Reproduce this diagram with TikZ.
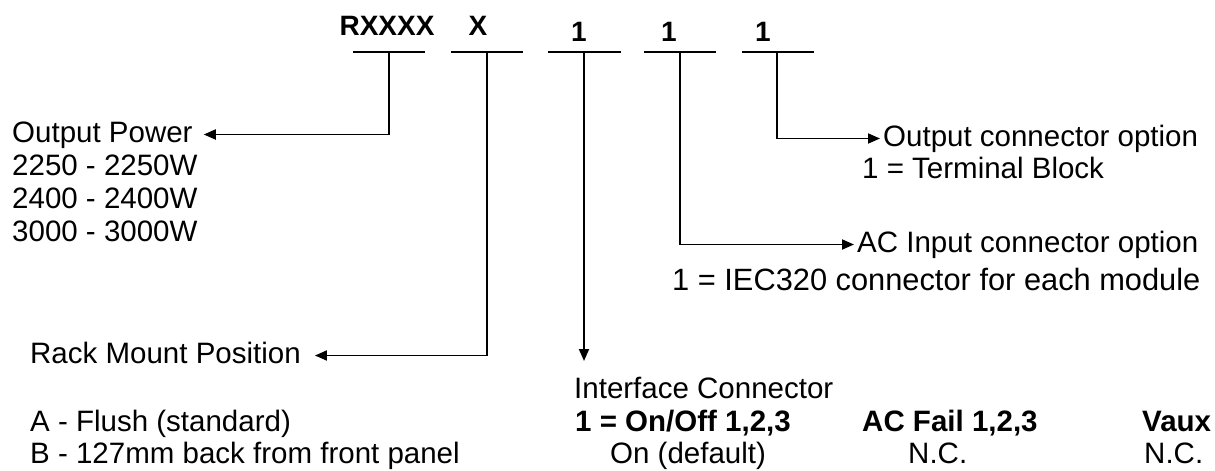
\documentclass[tikz,border=0pt]{standalone}
\usepackage{fontspec}
\setmainfont{Liberation Sans}
\usetikzlibrary{arrows.meta}
\begin{document}
\begin{tikzpicture}[x=1pt,y=-1pt,
  txt/.style={anchor=base west, inner sep=0pt, text height=21pt, text depth=6pt, font=\fontsize{29.5}{33}\selectfont},
  btxt/.style={txt, font=\fontsize{29.5}{33}\selectfont\bfseries},
  hdr/.style={anchor=base, inner sep=0pt, font=\fontsize{28}{32}\selectfont\bfseries},
  bar/.style={line width=1.8pt},
  arr/.style={line width=1.8pt, -{Triangle[length=12pt,width=10pt]}}]
\useasboundingbox (0,0) rectangle (1215,471);
\clip (0,0) rectangle (1215,471);
% header
\node[hdr] (h1) at (387,35) {RXXXX};
\node[hdr] (h2) at (478,35) {X};
\node[hdr] (h3) at (579,41) {1};
\node[hdr] (h4) at (669,41) {1};
\node[hdr] (h5) at (763,41) {1};
% bars
\coordinate (b1l) at (353,52); \coordinate (b1r) at (425,52); \coordinate (s1) at (389,52);
\coordinate (b2l) at (451,52); \coordinate (b2r) at (523,52); \coordinate (s2) at (487,52);
\coordinate (b3l) at (548,52); \coordinate (b3r) at (621,52); \coordinate (s3) at (584,52);
\coordinate (b4l) at (644,52); \coordinate (b4r) at (716,52); \coordinate (s4) at (680,52);
\coordinate (b5l) at (742,52); \coordinate (b5r) at (814,52); \coordinate (s5) at (777,52);
\foreach \i in {1,...,5} {\draw[bar] (b\i l) -- (b\i r);}
% left texts
\node[txt] (op) at (12,142) {Output Power};
\node[txt] (op1) at (12,175) {2250 - 2250W};
\node[txt] (op2) at (12,208) {2400 - 2400W};
\node[txt] (op3) at (12,241) {3000 - 3000W};
\node[txt] (rm) at (30,363) {Rack Mount Position};
\node[txt] (rma) at (30,431) {A - Flush (standard)};
\node[txt] (rmb) at (30,463) {B - 127mm back from front panel};
% right texts
\node[txt] (oc) at (883,146) {Output connector option};
\node[txt] (oc1) at (862,178) {1 = Terminal Block};
\node[txt] (ac) at (857,252) {AC Input connector option};
\node[txt, font=\fontsize{30.8}{33}\selectfont] (ac1) at (672,290) {1 = IEC320 connector for each module};
\node[txt] (ic) at (574,398) {Interface Connector};
\node[btxt] (ic1) at (575,431) {1 = On/Off 1,2,3};
\node[txt] (ic2) at (610,463) {On (default)};
\node[btxt] (af) at (862,431) {AC Fail 1,2,3};
\node[txt] (af1) at (908,463) {N.C.};
\node[btxt] (vx) at (1142,431) {Vaux};
\node[txt] (vx1) at (1144,463) {N.C.};
\coordinate (icTop) at (584,361);
% connectors
\draw[arr] (s1) |- ([xshift=11pt]op.east);
\draw[arr] (s2) |- ([xshift=14pt]rm.east);
\draw[arr] (s3) -- (icTop);
\draw[arr] (s4) |- ([xshift=-3pt]ac.west);
\draw[arr] (s5) |- ([xshift=-3pt]oc.west);
\end{tikzpicture}
\end{document}
